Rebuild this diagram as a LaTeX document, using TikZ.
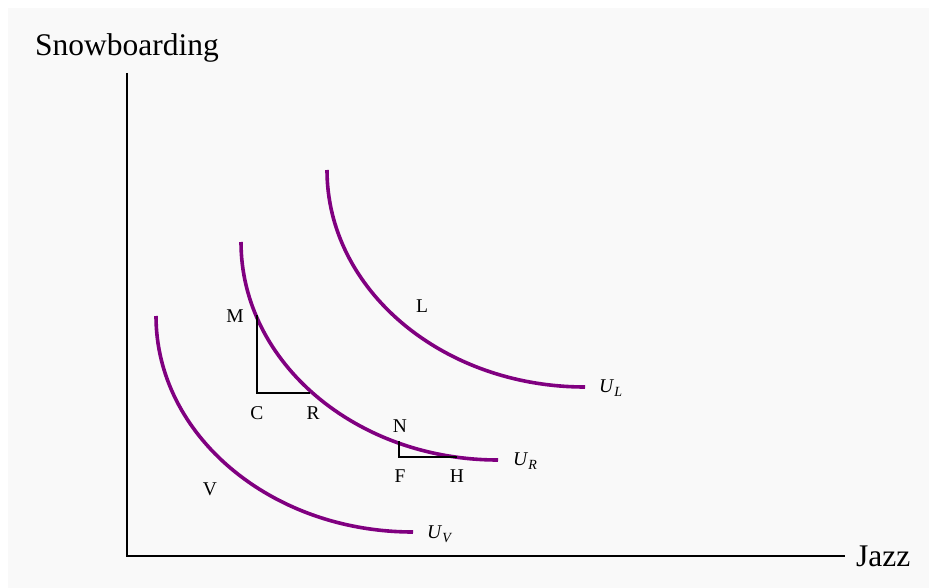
\documentclass[tikz,border=0pt]{standalone}
\usepackage{fontspec}
\setmainfont{Liberation Serif}
\definecolor{bg}{HTML}{F9F9F9}
\definecolor{curve}{HTML}{800080}
\tikzset{
  big/.style={inner sep=0pt, font=\fontsize{31.5}{31.5}\selectfont},
  lbl/.style={inner sep=0pt, anchor=base, font=\fontsize{19.5}{19.5}\selectfont},
  ulbl/.style={inner sep=0pt, anchor=base west, font=\fontsize{19.5}{19.5}\selectfont},
  icurve/.style={draw=curve, line width=3.6pt},
  axis/.style={draw=black, line width=2pt},
  tri/.style={draw=black, line width=2pt}
}
\begin{document}
\begin{tikzpicture}[x=1pt,y=-1pt]
\useasboundingbox (0,0) rectangle (929,588);
\fill[bg] (8,8) rectangle (929,588);
% axes
\coordinate (O) at (127,556);
\coordinate (Ytop) at (127,73);
\coordinate (Xend) at (845,556);
\draw[axis] (Ytop) -- (O) -- (Xend);
\node[big, anchor=base west] (ylab) at (35,56) {Snowboarding};
\node[big, anchor=base west] (xlab) at (856,566) {Jazz};
% indifference curves (quarter ellipses)
\coordinate (ULs) at (327,170);
\coordinate (URs) at (241,242);
\coordinate (UVs) at (156,316);
\path[icurve] (ULs) arc[start angle=180, end angle=90, x radius=258, y radius=217];
\path[icurve] (URs) arc[start angle=180, end angle=90, x radius=257, y radius=218];
\path[icurve] (UVs) arc[start angle=180, end angle=90, x radius=257, y radius=216];
% triangles
\coordinate (Mp) at (257,315);
\coordinate (Cp) at (257,393);
\coordinate (Rp) at (310,393);
\coordinate (Np) at (399,441);
\coordinate (Fp) at (399,457);
\coordinate (Hp) at (457,457);
\draw[tri] (Mp) -- (Cp) -- (Rp);
\draw[tri] (Np) -- (Fp) -- (Hp);
% labels
\node[lbl] (M) at (235,322) {M};
\node[lbl] (C) at (257,419) {C};
\node[lbl] (R) at (313,419) {R};
\node[lbl] (N) at (400,432) {N};
\node[lbl] (F) at (400,482) {F};
\node[lbl] (H) at (457,482) {H};
\node[lbl] (L) at (422,312) {L};
\node[lbl] (V) at (210,495) {V};
\node[ulbl] (UL) at (599,392) {\textit{U}\raisebox{-0.25em}{\fontsize{14}{14}\selectfont\textit{L}}};
\node[ulbl] (UR) at (513,465) {\textit{U}\raisebox{-0.25em}{\fontsize{14}{14}\selectfont\textit{R}}};
\node[ulbl] (UV) at (427,538) {\textit{U}\raisebox{-0.25em}{\fontsize{14}{14}\selectfont\textit{V}}};
\end{tikzpicture}
\end{document}
